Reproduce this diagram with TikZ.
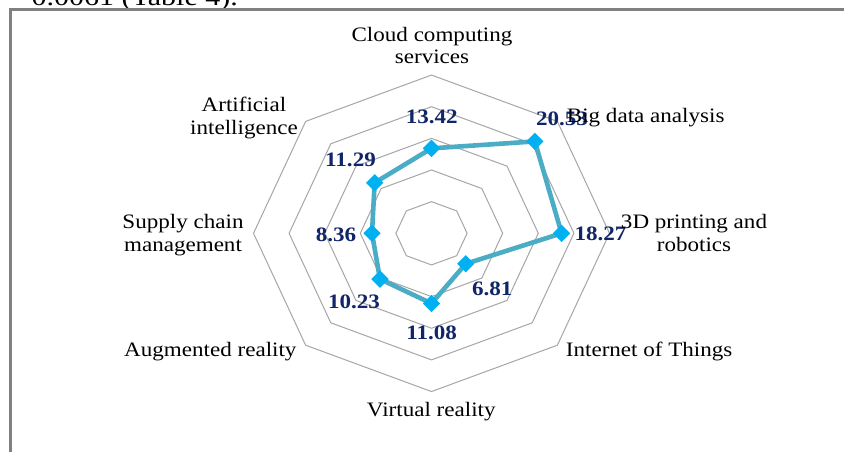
\documentclass[tikz,border=0pt]{standalone}
\usepackage{fontspec}
\setmainfont{Liberation Serif}
\newfontfamily\lblfont[FakeStretch=1.125]{Liberation Serif}
\newfontfamily\pgfont[FakeStretch=1.2]{Liberation Serif}
\usetikzlibrary{shapes.geometric}
\definecolor{gridgray}{RGB}{166,166,166}
\definecolor{framegray}{RGB}{128,128,128}
\definecolor{serline}{RGB}{75,172,198}
\definecolor{markblue}{RGB}{0,176,240}
\definecolor{valnavy}{RGB}{16,38,104}
\tikzset{
  catlbl/.style={font=\lblfont\fontsize{20.5}{22.6}\selectfont, text=black, inner sep=0pt, align=center, anchor=base},
  vallbl/.style={font=\lblfont\bfseries\fontsize{20.5}{22}\selectfont, text=valnavy, inner sep=0pt, anchor=base},
  ring/.style={draw=gridgray, line width=1pt},
  series/.style={draw=serline, line width=4.6pt, line join=round},
  marker/.style={diamond, fill=markblue, draw=none, minimum width=17.5pt, minimum height=17.5pt, inner sep=0pt},
}
\begin{document}
\begin{tikzpicture}[x=1pt,y=-1pt]
\useasboundingbox (0,0) rectangle (844,452);
\clip (0,0) rectangle (844,452);
\fill[white] (0,0) rectangle (844,452);
% text of the page above, cut off
\node[font=\pgfont\fontsize{25}{28}\selectfont, anchor=base east, inner sep=0pt] (pagetxt) at (238,6) {0.0061 (Table 4).};
% frame
\draw[framegray, line width=3pt] (10,460) -- (10,10) -- (860,10);
\coordinate (C) at (431.5,233.3);
\begin{scope}[shift={(C)}, x=7.12pt, y=6.33pt]
  \foreach \k in {5,10,15,20,25}{
    \draw[ring] (90:\k) -- (45:\k) -- (0:\k) -- (-45:\k) -- (-90:\k) -- (-135:\k) -- (180:\k) -- (135:\k) -- cycle;
  }
  \coordinate (d1) at (90:13.42);
  \coordinate (d2) at (45:20.53);
  \coordinate (d3) at (0:18.27);
  \coordinate (d4) at (-45:6.81);
  \coordinate (d5) at (-90:11.08);
  \coordinate (d6) at (-135:10.23);
  \coordinate (d7) at (180:8.36);
  \coordinate (d8) at (135:11.29);
\end{scope}
\draw[series] (d1) -- (d2) -- (d3) -- (d4) -- (d5) -- (d6) -- (d7) -- (d8) -- cycle;
\foreach \i in {1,...,8}{ \node[marker] (m\i) at (d\i) {}; }
% value labels
\node[vallbl] (v1) at (431.7,123) {13.42};
\node[vallbl] (v2) at (562,125) {20.53};
\node[vallbl] (v3) at (600.5,240) {18.27};
\node[vallbl] (v4) at (492.3,295) {6.81};
\node[vallbl] (v5) at (431.7,339.5) {11.08};
\node[vallbl] (v6) at (354,308) {10.23};
\node[vallbl] (v7) at (336,241) {8.36};
\node[vallbl] (v8) at (350.5,166.5) {11.29};
% category labels (anchor base = baseline of the last line)
\node[catlbl] (c1) at (432,63.8) {Cloud computing\\services};
\node[catlbl, anchor=base west] (c2) at (566.7,122.7) {Big data analysis};
\node[catlbl] (c3) at (694,251) {3D printing and\\robotics};
\node[catlbl, anchor=base west] (c4) at (565.7,356.7) {Internet of Things};
\node[catlbl] (c5) at (431.3,416.7) {Virtual reality};
\node[catlbl, anchor=base east] (c6) at (296.7,356.7) {Augmented reality};
\node[catlbl] (c7) at (183,251) {Supply chain\\management};
\node[catlbl] (c8) at (244,134.3) {Artificial\\intelligence};
\end{tikzpicture}
\end{document}
